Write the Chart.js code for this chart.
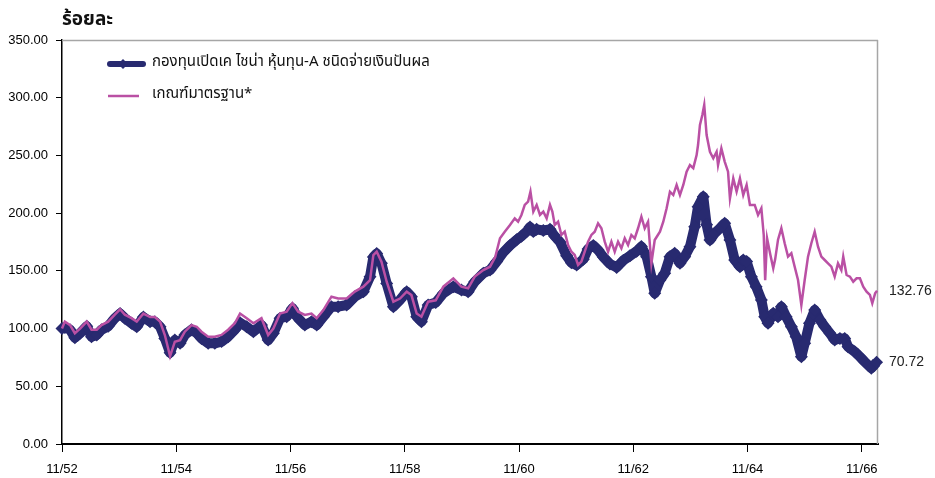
<!DOCTYPE html>
<html>
<head>
<meta charset="utf-8">
<script src="https://cdn.jsdelivr.net/npm/chart.js@4.4.1/dist/chart.umd.min.js"></script>
<style>
html,body{margin:0;padding:0;background:#fff;}
#wrap{width:935px;height:478px;position:relative;}
</style>
</head>
<body>
<div id="wrap"><canvas id="c"></canvas></div>
<script>
// x values are months since 11/2552
const fundMonths = [0,0.6,1.7,2.7,3.8,5.2,6.2,7.3,8.3,9.7,11.1,12.2,13.2,14.6,15.7,17.1,18.5,19.5,20.6,21.6,22.7,23.7,24.8,25.8,27.2,28.3,29.3,30.7,32.1,33.5,34.9,36.3,37.4,38.8,40.2,41.9,43.3,44.4,45.8,47.2,48.4,49.6,51,52.4,53.5,54.9,56.6,58,59.8,61.5,63.3,64.7,65.4,66.1,67.1,68.2,69.6,71,72.4,73.4,74.5,75.5,76.9,78.5,80.1,82.2,83.9,85.3,86.7,88.5,89.9,91.3,92.7,94.1,95.5,96.5,97.6,98.3,99,99.7,101.1,102.5,103.5,104.6,106,107,108.1,109.5,110.5,111.6,112.6,113.7,115.1,116.5,117.9,119.3,120.7,121.7,122.8,123.8,124.5,125.6,126.6,127.7,128.7,129.8,130.8,131.9,132.9,133.6,134.7,135.4,136.1,137.1,138.2,139.2,140.3,141.3,142.4,143.1,143.8,144.8,145.8,146.9,147.6,148.3,149.4,150.4,151.1,152.1,153.2,154.2,155.3,156,157,158.1,159.2,160.2,161.3,162.3,163.4,164.4,165.1,166.5,167.6,168.6,170,171.1];
const fundValues = [100,101,99,92,96,102,93,94.5,99,102,109,113,109,104.6,101.6,110,106,106,101.6,91.5,79,90,87.2,94.5,99,96,91.5,87.2,87.2,88.7,93,99,105,101.6,97.3,103,90,96,109,110.3,117.6,109,103,106,103,110.3,119,119,120.4,127.6,132,145,162,165,156.5,139,119,124.8,132,127.6,110.3,106,120.4,122.5,130.5,136.3,133.4,132,140.6,147.9,150.7,158,166,172,177,180,184,188,184,186,185,186,180,175,163,157,155,160,169,172,168,162,156,153,159,163,167,171,162.3,145,130.5,142,147.9,162.3,165.2,156.5,162.3,170.9,188.3,205.6,214.3,190,176.7,182.5,186.9,191.2,176.7,159.4,153.6,159.4,158,145,136.3,124.8,110.3,104.6,113.2,110.3,119,110.3,101.6,93,75.6,87.2,104.6,116.1,107.5,101.6,95.9,90.1,91.5,91.5,84.3,80,75.6,71.3,65.6,70.72];
const benchMonths = [0,0.6,1.7,2.7,3.8,5.2,6.2,7.3,8.3,9.7,11.1,12.2,13.2,14.6,15.7,17.1,18.5,19.5,20.6,21.6,22.7,23.7,24.8,25.8,27.2,28.3,29.3,30.7,32.1,33.5,34.9,36.3,37.4,38.8,40.2,41.9,43.3,44.4,45.8,47.2,48.4,49.6,51,52.4,53.5,54.9,56.6,58,59.8,61.5,63.3,64.7,65.4,66.1,67.1,68.2,69.6,71,72.4,73.4,74.5,75.5,76.9,78.5,80.1,82.2,83.9,85.3,86.7,88.5,89.9,91,92,93,94.1,95.1,95.8,96.5,97.2,97.9,98.4,99,99.7,100.4,101.1,101.8,102.5,103,103.5,104.2,104.9,105.6,106.3,107,107.7,108.4,109.1,109.8,110.5,111.2,111.9,112.6,113.3,114,114.7,115.4,116.1,116.8,117.5,118.2,118.9,119.6,120.3,121,121.7,122.4,123.1,123.8,124.5,125.6,126.3,127,127.7,128.4,129.1,129.8,130.5,131.2,131.9,132.6,133.3,133.6,134,134.5,134.9,135.4,136.1,136.8,137.5,137.8,138.5,139.2,139.9,140.3,141,141.7,142.4,143.1,143.8,144.5,145.5,146.2,146.9,147.4,147.7,148.1,148.8,149.4,149.8,150.4,151.1,151.8,152.5,153.2,153.9,154.6,155.3,156,156.7,157.4,158.1,158.8,159.5,160.2,160.9,161.6,162.3,163,163.7,164.1,164.8,165.5,166.2,166.9,167.6,168.3,169,169.7,170.2,170.8,171.2];
const benchValues = [100,106,103,96,100,106,99,99,103,106,112,116.7,112,109,106,113,110,110,106,94.4,76,88.6,90,97.3,103,101.6,97.3,93,93,94.5,99,104.6,113,109,104.6,109,94.4,100,113,114.6,122,114.6,111.8,113,109,116,127.6,126,126,132,136.3,142,163.7,166.6,158,140.6,123.3,126,132,129,113,110.3,123.3,124.5,136.3,143.5,136.3,134.9,145,150.7,153.6,162,178.2,183.9,189.7,195.5,192.6,198.4,207.1,210,218.6,201.3,207.1,198.4,201.3,195.5,207.1,201.3,189.7,192.6,181.1,183.9,172.4,166.6,163.7,155.1,158,166.6,175.3,181.1,183.9,191.2,186.9,175.3,166.6,175.3,166.6,175.3,169.5,178.2,172.4,181.1,178.2,186.9,196.9,186.9,192.6,156.5,176.7,183.9,192.6,204.2,218.6,215.7,224.4,215.7,224.4,235.9,241.7,239,250.3,259,276.4,285,293.7,267.7,253.2,247.5,253.2,241.7,256.1,244.7,235.9,212.8,230.1,218.6,230.1,215.7,224.4,207.1,207.1,198.4,204.2,181.1,142,178.2,163.7,152.2,160,177,186.9,173.9,162.3,165.2,153.6,142.1,120.4,142.1,162.3,173.9,183.9,170.9,162.3,159.4,156.5,153.6,145,156.5,150.7,162.3,146.4,145,140.6,143.5,143.5,136.3,132,129.1,121.9,130.5,132.76];
const xTickValues = [0,24,48,72,96,120,144,168];
const xTickLabels = ['11/52','11/54','11/56','11/58','11/60','11/62','11/64','11/66'];
const fundName = 'กองทุนเปิดเค ไชน่า หุ้นทุน-A ชนิดจ่ายเงินปันผล';
const benchName = 'เกณฑ์มาตรฐาน*';
const yTitle = 'ร้อยละ';
const fundEnd = '70.72';
const benchEnd = '132.76';

const NAVY = '#282A70';
const PINK = '#BA50A4';
const THAI = '"Noto Sans Thai","Tahoma","Leelawadee UI","Noto Sans","DejaVu Sans",sans-serif';

const fundPts = fundMonths.map((m,i)=>({x:m,y:fundValues[i]}));
const benchPts = benchMonths.map((m,i)=>({x:m,y:benchValues[i]}));

const decor = {
  id:'decor',
  beforeDatasetsDraw(chart){
    const {ctx, chartArea:a} = chart;
    ctx.save();
    ctx.strokeStyle='#a6a6a6'; ctx.lineWidth=1.5;
    ctx.beginPath();
    ctx.moveTo(a.left, a.top+0.5); ctx.lineTo(a.right, a.top+0.5);
    ctx.moveTo(a.right-0.5, a.top); ctx.lineTo(a.right-0.5, a.bottom);
    ctx.stroke();
    ctx.restore();
  },
  afterDraw(chart){
    const {ctx, scales} = chart;
    ctx.save();
    ctx.fillStyle='#111';
    ctx.font='bold 19px '+THAI;
    ctx.textBaseline='alphabetic';
    ctx.textAlign='left';
    ctx.fillText(yTitle, 62, 25);
    ctx.lineCap='round';
    ctx.strokeStyle=NAVY; ctx.lineWidth=6;
    ctx.beginPath(); ctx.moveTo(110,64); ctx.lineTo(143,64); ctx.stroke();
    ctx.fillStyle=NAVY;
    ctx.beginPath(); ctx.moveTo(123,59); ctx.lineTo(128,64); ctx.lineTo(123,69); ctx.lineTo(118,64); ctx.closePath(); ctx.fill();
    ctx.lineCap='butt';
    ctx.strokeStyle=PINK; ctx.lineWidth=2.5;
    ctx.beginPath(); ctx.moveTo(108,96); ctx.lineTo(139,96); ctx.stroke();
    ctx.fillStyle='#111';
    ctx.font='15px '+THAI;
    ctx.textBaseline='middle';
    ctx.fillText(fundName, 152, 63);
    ctx.fillText(benchName, 152, 95);
    ctx.font='14px "Liberation Sans",Arial,sans-serif';
    ctx.fillStyle='#222';
    const ys = scales.y;
    ctx.fillText(benchEnd, 889, ys.getPixelForValue(benchValues[benchValues.length-1]));
    ctx.fillText(fundEnd, 889, ys.getPixelForValue(fundValues[fundValues.length-1]));
    ctx.restore();
  }
};

new Chart(document.getElementById('c'), {
  type:'line',
  data:{
    datasets:[
      {label:benchName, data:benchPts, borderColor:PINK, backgroundColor:PINK, borderWidth:2.5, pointRadius:0, tension:0, order:0, clip:false},
      {label:fundName, data:fundPts, borderColor:NAVY, backgroundColor:NAVY, borderWidth:10, borderJoinStyle:'round', pointStyle:'rectRot', pointRadius:6.5, pointBorderWidth:0, pointBackgroundColor:NAVY, tension:0, order:1, clip:false}
    ]
  },
  options:{
    responsive:true, maintainAspectRatio:false, animation:false,
    layout:{padding:{top:40,right:57,left:0,bottom:0}},
    plugins:{legend:{display:false}, tooltip:{enabled:false}},
    scales:{
      x:{
        type:'linear', min:0, max:171.4,
        afterFit(s){ s.height=34; },
        afterBuildTicks(s){ s.ticks = xTickValues.map(v=>({value:v})); },
        ticks:{autoSkip:false, maxRotation:0, padding:10, color:'#000', font:{family:'"Liberation Sans",Arial,sans-serif', size:13},
          callback:(v)=>{ const i=xTickValues.indexOf(v); return i>=0?xTickLabels[i]:''; }},
        grid:{drawOnChartArea:false, drawTicks:true, tickLength:8, color:'#000', lineWidth:1},
        border:{color:'#000', width:2}
      },
      y:{
        min:0, max:350,
        afterFit(s){ s.width=62; },
        ticks:{stepSize:50, padding:8, color:'#000', font:{family:'"Liberation Sans",Arial,sans-serif', size:13},
          callback:(v)=>v.toFixed(2)},
        grid:{drawOnChartArea:false, drawTicks:true, tickLength:6, color:'#000', lineWidth:1},
        border:{color:'#000', width:1.5}
      }
    }
  },
  plugins:[decor]
});
</script>
</body>
</html>
